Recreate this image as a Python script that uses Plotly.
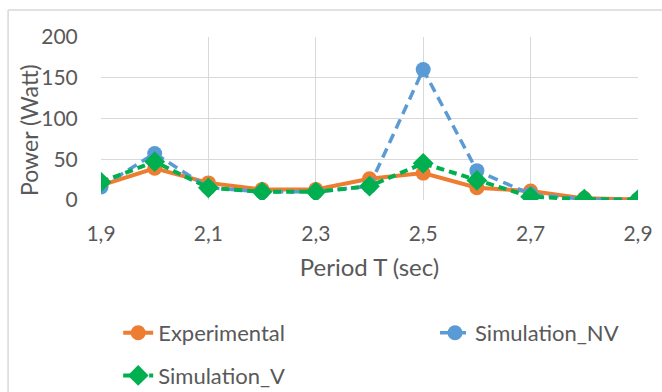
import plotly.graph_objects as go

# Wave period (s) and measured / simulated power (W)
period = [1.9, 2.0, 2.1, 2.2, 2.3, 2.4, 2.5, 2.6, 2.7, 2.8, 2.9]
experimental = [18, 39, 21, 13, 13, 26, 33, 15, 11, 2, 0.5]
simulation_nv = [16, 57, 15, 10, 10, 17, 160, 36, 7, 1, 0.5]
simulation_v = [22, 47, 15, 10, 10, 17, 45, 24, 4, 1, 0.5]

x_ticks = [1.9, 2.1, 2.3, 2.5, 2.7, 2.9]
x_tick_labels = ["1,9", "2,1", "2,3", "2,5", "2,7", "2,9"]
y_ticks = [0, 50, 100, 150, 200]

FONT = "Lato"
TEXT = "#595959"
GRID = "#d9d9d9"

fig = go.Figure()
fig.add_trace(go.Scatter(
    x=period, y=experimental, name="Experimental", mode="lines+markers",
    line=dict(color="#ED7D31", width=4),
    marker=dict(symbol="circle", size=15, color="#ED7D31"),
    legend="legend", legendgroup="exp",
))
fig.add_trace(go.Scatter(
    x=period, y=simulation_nv, name="Simulation_NV", mode="lines+markers",
    line=dict(color="#5B9BD5", width=3.5, dash="10px,6px"),
    marker=dict(symbol="circle", size=15, color="#5B9BD5"),
    legend="legend2", legendgroup="nv",
))
fig.add_trace(go.Scatter(
    x=period, y=simulation_v, name="Simulation_V", mode="lines+markers",
    line=dict(color="#00B050", width=4, dash="8px,5px"),
    marker=dict(symbol="diamond", size=16, color="#00B050"),
    legend="legend", legendgroup="v",
))

# chart frame (top and left edges)
fig.add_shape(type="line", xref="paper", yref="paper",
              x0=-0.173, x1=1.2, y0=1.166, y1=1.166,
              line=dict(color=GRID, width=1.5))
fig.add_shape(type="line", xref="paper", yref="paper",
              x0=-0.173, x1=-0.173, y0=1.166, y1=-1.3,
              line=dict(color=GRID, width=1.5))

# y-axis title, set close to the tick labels
fig.add_annotation(
    text="Power (Watt)", xref="paper", yref="paper",
    x=-0.134, y=0.43, xanchor="center", yanchor="middle",
    textangle=-90, showarrow=False,
    font=dict(family=FONT, size=23, color=TEXT),
)

legend_font = dict(family=FONT, size=22, color=TEXT)

fig.update_layout(
    width=662, height=392,
    margin=dict(l=101, r=24, t=37, b=192, autoexpand=False),
    paper_bgcolor="white", plot_bgcolor="white",
    font=dict(family=FONT, color=TEXT, size=21),
    showlegend=True,
    legend=dict(
        orientation="v", x=0.032, xanchor="left", y=-0.687, yanchor="top",
        font=legend_font, tracegroupgap=11, itemwidth=30,
        bgcolor="rgba(0,0,0,0)",
    ),
    legend2=dict(
        orientation="v", x=0.622, xanchor="left", y=-0.687, yanchor="top",
        font=legend_font, itemwidth=30, bgcolor="rgba(0,0,0,0)",
    ),
    xaxis=dict(
        range=[1.9, 2.9], tickvals=x_ticks, ticktext=x_tick_labels,
        showgrid=True, gridcolor=GRID, gridwidth=1.3,
        zeroline=False, showline=False,
        ticks="outside", ticklen=15, tickcolor="rgba(0,0,0,0)",
        tickfont=dict(family=FONT, size=21, color=TEXT),
        title=dict(text="Period T (sec)", font=dict(family=FONT, size=24, color=TEXT), standoff=14),
        automargin=False,
    ),
    yaxis=dict(
        range=[0, 200], tickvals=y_ticks,
        showgrid=True, gridcolor=GRID, gridwidth=1.3,
        zeroline=False, showline=False,
        ticks="outside", ticklen=18, tickcolor="rgba(0,0,0,0)",
        tickfont=dict(family=FONT, size=21, color=TEXT),
        automargin=False,
    ),
)

fig.write_html("out.html")
